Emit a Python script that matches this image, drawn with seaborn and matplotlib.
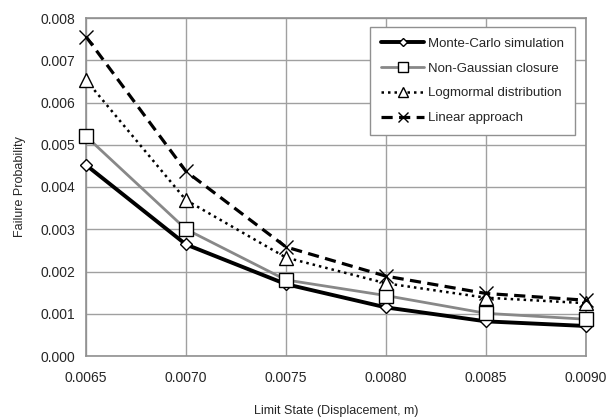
import matplotlib
matplotlib.use("Agg")
import matplotlib.pyplot as plt
import seaborn as sns
import pandas as pd

limit_state = [0.0065, 0.0070, 0.0075, 0.0080, 0.0085, 0.0090]
monte_carlo = [0.00452, 0.00264, 0.00170, 0.00115, 0.00082, 0.00071]
non_gaussian = [0.00520, 0.00300, 0.00180, 0.00143, 0.00101, 0.00087]
lognormal = [0.00653, 0.00369, 0.00233, 0.00172, 0.00138, 0.00125]
linear = [0.00756, 0.00437, 0.00258, 0.00189, 0.00148, 0.00132]
series_names = ["Monte-Carlo simulation", "Non-Gaussian closure",
                "Logmormal distribution", "Linear approach"]
x_ticks = ["0.0065", "0.0070", "0.0075", "0.0080", "0.0085", "0.0090"]
y_ticks = ["0.000", "0.001", "0.002", "0.003", "0.004", "0.005", "0.006", "0.007", "0.008"]

sns.set_style("white")
plt.rcParams['font.family'] = ['Liberation Sans', 'DejaVu Sans']

fig = plt.figure(figsize=(6.07, 4.17), dpi=100)
ax = fig.add_axes([86/607, 1 - 356/417, 500/607, 338/417])

styles = [
    dict(color="black", lw=2.8, ls="-", marker="D", ms=6.5),
    dict(color="#888888", lw=2.0, ls="-", marker="s", ms=10),
    dict(color="black", lw=1.8, ls=(0, (1, 1.6)), marker="^", ms=10),
    dict(color="black", lw=2.3, ls=(0, (3.5, 2)), marker="x", ms=10),
]
data = [monte_carlo, non_gaussian, lognormal, linear]
for name, vals, st in zip(series_names, data, styles):
    df = pd.DataFrame({"x": limit_state, "y": vals})
    mk = st["marker"]
    sns.lineplot(data=df, x="x", y="y", ax=ax, color=st["color"], lw=st["lw"],
                 linestyle=st["ls"], marker=mk, markersize=st["ms"],
                 markerfacecolor="white" if mk != "x" else "black",
                 markeredgecolor="black", markeredgewidth=1.0, label=name,
                 zorder=3, clip_on=False)

ax.set_xlim(0.0065, 0.0090)
ax.set_ylim(0, 0.008)
ax.set_xticks([float(t) for t in x_ticks])
ax.set_xticklabels(x_ticks)
ax.set_yticks([float(t) for t in y_ticks])
ax.set_yticklabels(y_ticks)
ax.tick_params(axis="both", length=0, labelsize=10, pad=8)
ax.tick_params(axis="x", pad=11)
ax.grid(True, color="#a0a0a0", lw=1.0)
for s in ax.spines.values():
    s.set_color("#909090")
    s.set_linewidth(1.2)
ax.set_xlabel("Limit State (Displacement, m)", fontsize=9, labelpad=14)
ax.set_ylabel("Failure Probability", fontsize=9, labelpad=10)

leg = ax.legend(loc="upper right", bbox_to_anchor=(0.978, 0.973), borderaxespad=0,
                fontsize=9.5, frameon=True, fancybox=False, framealpha=1,
                edgecolor="#909090", handlelength=3.3, handletextpad=0.3,
                borderpad=0.8, labelspacing=0.95, markerscale=0.65)
leg.get_frame().set_linewidth(1.0)

fig.savefig("out.png", dpi=100)
